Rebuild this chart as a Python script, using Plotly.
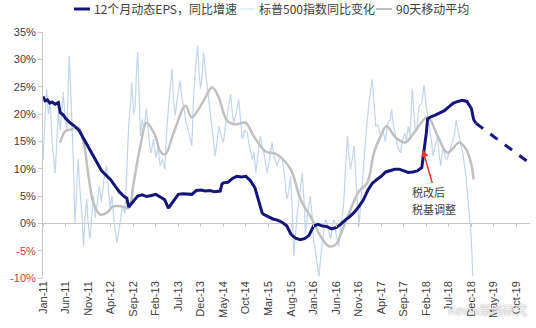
import plotly.graph_objects as go

# Months are counted from Jan-2011 (0 = Jan-11)
tick_months = [0, 5, 10, 15, 20, 25, 30, 35, 40, 45, 50, 55, 60, 65, 70, 75, 80, 85, 90, 95, 100, 105]
tick_labels = ["Jan-11", "Jun-11", "Nov-11", "Apr-12", "Sep-12", "Feb-13", "Jul-13", "Dec-13",
               "May-14", "Oct-14", "Mar-15", "Aug-15", "Jan-16", "Jun-16", "Nov-16", "Apr-17",
               "Sep-17", "Feb-18", "Jul-18", "Dec-18", "May-19", "Oct-19"]

# 12-month trailing EPS, YoY growth (%)
eps_month = [0, 0.5, 1, 1.5, 2, 2.7, 3.4, 3.8, 4.5, 5, 6, 6.4, 7, 8, 9, 10, 11, 12, 13, 14, 15, 16,
             17, 18, 18.6, 19, 19.5, 20, 21, 22, 23, 24, 25, 26, 27, 27.8, 28.5, 29.5, 30, 31, 32,
             33, 34, 35, 36, 37, 38, 39.3, 39.7, 40, 41, 42, 43, 44, 45, 46, 47, 48, 48.6, 49, 50,
             51, 52, 53, 54, 55, 56, 57, 58, 59, 60, 61, 62, 63, 64, 65, 66, 67, 68, 69, 70, 71,
             72, 73, 74, 75, 76, 77, 78, 79, 80, 81, 82, 83, 84, 84.5, 85, 85.3, 86, 87, 88, 89,
             90, 91, 92, 93, 94, 95, 95.5, 96]
eps_value = [23.2, 22.4, 22.6, 22.0, 22.2, 21.8, 22.1, 20.3, 19.8, 19.2, 18.4, 18.2, 17.8, 17.0,
             15.5, 14.2, 12.5, 11.0, 9.6, 8.8, 8.0, 6.8, 5.7, 4.9, 4.6, 3.0, 3.5, 4.2, 5.0, 5.2,
             4.9, 5.1, 5.3, 4.8, 4.3, 2.8, 3.6, 4.8, 5.3, 5.4, 5.3, 5.3, 6.0, 6.1, 5.9, 6.0, 5.8,
             5.9, 7.2, 7.4, 7.5, 8.2, 8.6, 8.5, 8.6, 7.8, 6.5, 3.5, 1.9, 1.6, 1.2, 0.8, 0.6, 0.2,
             -0.4, -2.0, -2.7, -3.0, -2.8, -2.2, -0.5, -0.2, -0.5, -0.6, -1.0, -0.8, -0.2, 0.6,
             1.2, 2.0, 3.0, 4.2, 6.0, 7.3, 8.0, 8.6, 9.4, 9.7, 9.9, 9.9, 9.6, 9.3, 9.4, 9.6, 10.2,
             12.9, 16.5, 19.1, 19.5, 19.8, 20.2, 20.6, 21.3, 22.0, 22.3, 22.5, 22.3, 21.0, 19.0,
             18.3]

# Projected EPS growth
proj_month = [96, 107.3]
proj_value = [18.3, 11.4]

# S&P 500 index, YoY change (%)
spx_month = [0, 0.4, 0.8, 1.2, 1.6, 2.0, 2.4, 2.7, 3.0, 3.4, 3.8, 4.2, 4.5, 4.9, 5.3, 5.6, 5.8,
             6.1, 6.4, 6.7, 7.1, 7.4, 7.8, 8.2, 8.6, 9.0, 9.3, 9.7, 10.0, 10.4, 10.8, 11.2, 11.6,
             12.0, 12.5, 13.0, 13.5, 14.1, 14.5, 14.9, 15.3, 15.8, 16.4, 16.8, 17.2, 17.6, 18.2,
             18.5, 19.0, 19.4, 19.7, 20.1, 20.4, 20.7, 21.0, 21.3, 21.6, 22.0, 22.4, 22.9, 23.3,
             23.7, 24.0, 24.5, 25.0, 25.5, 26.0, 26.5, 27.0, 27.5, 28.0, 28.6, 29.0, 29.3, 29.8,
             30.4, 30.8, 31.2, 31.6, 32.0, 32.5, 33.0, 33.4, 33.8, 34.3, 34.6, 34.9, 35.3, 35.6,
             36.0, 36.4, 36.8, 37.1, 37.6, 38.2, 38.6, 39.0, 39.5, 40.0, 40.5, 41.0, 41.6, 42.0,
             42.3, 42.8, 43.4, 43.8, 44.2, 44.7, 45.3, 45.8, 46.4, 46.8, 47.2, 47.6, 48.2, 48.6,
             49.0, 49.7, 50.2, 50.8, 51.3, 51.9, 52.5, 53.0, 53.4, 54.1, 54.5, 54.9, 55.3, 55.6,
             56.0, 56.4, 57.0, 57.5, 57.9, 58.2, 58.7, 59.3, 59.7, 60.0, 60.4, 60.8, 61.2, 61.5,
             61.9, 62.3, 62.7, 63.2, 63.8, 64.2, 64.6, 65.0, 65.6, 66.0, 66.7, 67.1, 67.5, 67.9,
             68.2, 68.6, 69.0, 69.4, 69.8, 70.1, 70.6, 71.2, 71.7, 72.3, 72.6, 73.0, 73.4, 73.8,
             74.3, 74.9, 75.4, 75.9, 76.5, 77.0, 77.3, 77.7, 78.2, 78.6, 79.3, 79.7, 80.2, 80.6,
             81.0, 81.4, 81.9, 82.3, 82.6, 83.0, 83.4, 84.0, 84.5, 84.9, 85.3, 85.6, 86.0, 86.5,
             87.0, 87.5, 87.8, 88.2, 88.7, 89.2, 89.6, 90.1, 90.8, 91.2, 91.6, 92.0, 92.3, 92.8,
             93.2, 93.8, 94.2, 94.5, 94.9, 95.1, 95.3]
spx_value = [11.7, 18, 24.5, 20, 22, 15, 12, 9.2, 14, 20.3, 17, 21, 24.0, 19, 17.3, 25, 30.7,
             25.2, 20, 12, 0.0, 6, 11.8, 6, 2, -4.2, 1, 4.4, 0, -2.9, 2, 5, 1, 4, 6.8, 4, 8, 10.5,
             6, 2.6, 5, 0, -3.6, -1, 0.7, 3, 1.9, 8, 17.8, 22, 25.8, 20, 21, 27, 31.3, 24, 16.0,
             19, 17, 21.0, 17, 14, 12.9, 15.4, 12, 14, 10.5, 11.8, 9.9, 17.8, 23, 28.3, 22, 19.7,
             23, 26.1, 23, 21.5, 19, 17.8, 16, 14.2, 23.3, 28, 32.5, 28, 24.6, 27, 31.3, 28, 25.2,
             22, 19.7, 16, 12.3, 15, 17.8, 16, 14.8, 18, 21, 23.7, 20, 18.4, 20, 22.7, 19, 15.4,
             17, 16.6, 14, 11.7, 13, 9.2, 12, 16.0, 14, 12.9, 9.2, 12, 14.8, 12, 10.5, 12, 11.8,
             9.9, 4.4, 6, 8.6, 2, -6.0, -2, 1.9, 6, 9.2, 4, -1.8, 2, 5.0, 1, -3.0, -5, -7, -9.7,
             -7, -3.6, -1, 0.7, -1, -2.9, 0, 0.7, -2, -4.2, -1, 3.7, 10, 16.0, 12, 9.9, 12, 14.2,
             8, 2, -0.5, 5, 11.7, 17, 22.1, 24, 26.4, 22, 17.8, 18, 16.0, 17, 15, 18.4, 19, 20.9,
             18, 16.0, 14, 12.9, 15, 16.6, 15, 17.8, 16, 24.6, 20, 16.6, 18, 21.5, 22, 25.2, 22,
             20, 18, 16.0, 12.3, 14, 16, 13, 10.5, 14.2, 12, 11.7, 13, 14.8, 16, 18.8, 17, 16.0,
             14, 12.3, 8.6, 5, 1.9, -1.8, -5, -9.7]

# 90-day moving average of the S&P 500 YoY change (%)
ma_month = [3.8, 5, 6.4, 7.8, 9, 10.1, 11.2, 12.7, 14.1, 15.6, 17.5, 19, 20.1, 21.6, 23, 24.9,
            26, 27.1, 29, 31.6, 33, 35.6, 37.5, 39, 40.8, 42.7, 44.9, 46.7, 49.3, 51.9, 54.9,
            57.1, 59.7, 61.6, 63.4, 64.9, 66.4, 68.2, 70.1, 71.9, 73.4, 74.9, 76.2, 78.2, 80.4,
            82.3, 85.3, 87.5, 89.7, 92.3, 93.8, 94.9, 95.5]
ma_value = [14.8, 16.9, 17.2, 17.5, 14.8, 8.6, 3.7, 1.6, 1.9, 3.1, 3.1, 2.8, 7.4, 14.2, 18.4,
            16.0, 13.2, 12.6, 16.6, 21.5, 19.4, 22.4, 24.9, 23.0, 18.8, 18.1, 18.4, 16.0, 13.2,
            12.6, 9.9, 4.4, 0.7, -2.4, -4.2, -3.9, -1.2, 2.5, 5.9, 7.4, 12.9, 16.0, 17.8, 15.7,
            14.8, 16.6, 19.4, 16.0, 12.9, 14.8, 13.6, 11.1, 8.0]

y_ticks = [35, 30, 25, 20, 15, 10, 5, 0, -5, -10]

NAVY = "#16167a"
LIGHT = "#c3d4eb"
GRAY = "#c0c0c0"
AXIS = "#c8c8c8"
TEXT = "#404040"
RED = "#d63a4a"

fig = go.Figure()

fig.add_trace(go.Scatter(x=spx_month, y=spx_value, mode="lines",
                         line=dict(color=LIGHT, width=1.2), showlegend=False, hoverinfo="skip"))
fig.add_trace(go.Scatter(x=ma_month, y=ma_value, mode="lines",
                         line=dict(color=GRAY, width=2.5, shape="spline", smoothing=1.0),
                         showlegend=False))
fig.add_trace(go.Scatter(x=eps_month, y=eps_value, mode="lines",
                         line=dict(color=NAVY, width=3), showlegend=False))
fig.add_trace(go.Scatter(x=proj_month, y=proj_value, mode="lines",
                         line=dict(color=NAVY, width=3, dash="dash"), showlegend=False))
# invisible trace that carries the tick marks on the 0% line
fig.add_trace(go.Scatter(x=[], y=[], xaxis="x2", showlegend=False))

y_text = [f"{v}%" if v >= 0 else f'<span style="color:{RED}">{v}%</span>' for v in y_ticks]

fig.update_layout(
    width=536, height=328,
    margin=dict(l=43, r=6, t=32, b=50),
    paper_bgcolor="white", plot_bgcolor="white",
    font=dict(family="Liberation Sans, Arial, sans-serif", size=11, color=TEXT),
    xaxis=dict(range=[0, 108], tickmode="array", tickvals=tick_months, ticktext=tick_labels,
               tickangle=-90, showgrid=False, zeroline=False, showline=False, ticks="",
               tickfont=dict(size=11, color=TEXT)),
    xaxis2=dict(range=[0, 108], overlaying="x", anchor="free", position=10 / 45, side="bottom",
                tickmode="array", tickvals=tick_months, showticklabels=False,
                ticks="outside", ticklen=3, tickcolor=AXIS, showline=False,
                showgrid=False, zeroline=False),
    yaxis=dict(range=[-10, 35], tickmode="array", tickvals=y_ticks, ticktext=y_text,
               showgrid=False, zeroline=True, zerolinecolor=AXIS, zerolinewidth=1,
               showline=True, linecolor=AXIS, linewidth=1, ticks="outside", ticklen=4,
               tickcolor=AXIS, tickfont=dict(size=11, color=TEXT)),
)

# Legend row drawn above the plot
def px_x(px):
    return (px - 43) / 487

def px_y(py):
    return (278 - py) / 246

legend_items = [
    (74, 90, NAVY, 3, "12个月动态EPS，同比增速"),
    (239, 255, "#d8e2f0", 1.2, "标普500指数同比变化"),
    (376, 392, GRAY, 2, "90天移动平均"),
]
for x0, x1, col, w, label in legend_items:
    fig.add_shape(type="line", xref="paper", yref="paper",
                  x0=px_x(x0), x1=px_x(x1), y0=px_y(9), y1=px_y(9),
                  line=dict(color=col, width=w))
    fig.add_annotation(xref="paper", yref="paper", x=px_x(x1 + 2), y=px_y(9),
                       xanchor="left", yanchor="middle", showarrow=False, text=label,
                       font=dict(family="Noto Sans CJK SC", size=12, color=TEXT))

# Tax-reform note with arrow
fig.add_annotation(x=84.2, y=13.5, ax=10, ay=35, text="", showarrow=True,
                   arrowhead=2, arrowsize=1, arrowwidth=1.5, arrowcolor="#e5322d")
fig.add_annotation(x=81.4, y=5.7, xanchor="left", yanchor="middle", showarrow=False,
                   text="税改后", font=dict(family="Noto Sans CJK SC", size=11, color=TEXT))
fig.add_annotation(x=81.4, y=2.6, xanchor="left", yanchor="middle", showarrow=False,
                   text="税基调整", font=dict(family="Noto Sans CJK SC", size=11, color=TEXT))

# Account mark
fig.add_annotation(xref="paper", yref="paper", x=px_x(529), y=px_y(309),
                   xanchor="right", yanchor="middle", showarrow=False, text="Kevin策略研究",
                   font=dict(family="Noto Sans CJK SC", size=12, color="rgba(255,255,255,0.9)",
                             shadow="0px 0px 1.5px #777"))

fig.write_html("out.html")
